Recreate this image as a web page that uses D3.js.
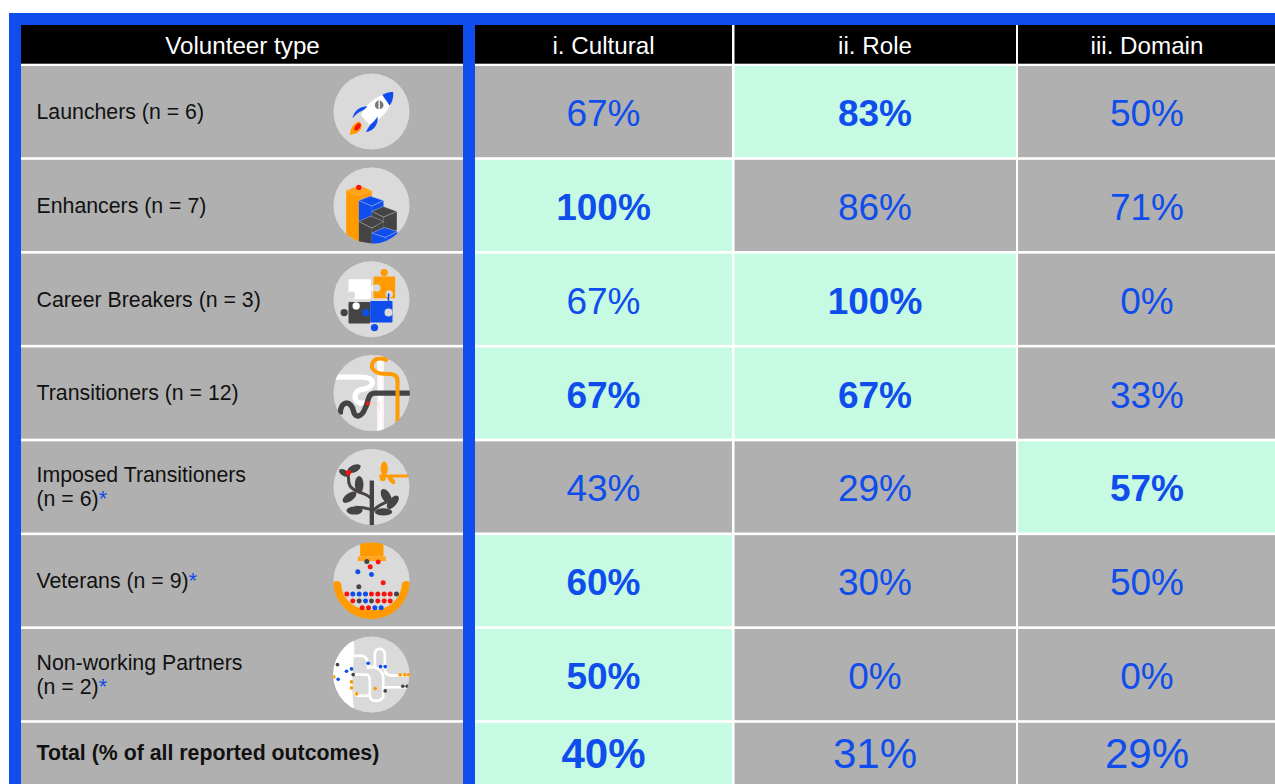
<!DOCTYPE html>
<html><head><meta charset="utf-8">
<script src="https://cdnjs.cloudflare.com/ajax/libs/d3/7.8.5/d3.min.js"></script>
<style>html,body{margin:0;padding:0;background:#fff;overflow:hidden}svg{display:block}text{font-family:"Liberation Sans",Arial,sans-serif}</style>
</head><body><svg id="c" width="1275" height="784"></svg>
<script>
const headers = ["Volunteer type", "i. Cultural", "ii. Role", "iii. Domain"];
const types = ["Launchers (n = 6)", "Enhancers (n = 7)", "Career Breakers (n = 3)", "Transitioners (n = 12)", "Imposed Transitioners|(n = 6)*", "Veterans (n = 9)*", "Non-working Partners|(n = 2)*", "Total (% of all reported outcomes)"];
const cultural = [67, 100, 67, 67, 43, 60, 50, 40];
const role = [83, 86, 100, 67, 29, 30, 0, 31];
const domain = [50, 71, 0, 33, 57, 50, 0, 29];
const culturalHighlight = [0, 1, 1, 1, 0, 1, 1, 1];
const culturalBold = [0, 1, 0, 1, 0, 1, 1, 1];
const roleHighlight = [1, 0, 1, 1, 0, 0, 0, 0];
const roleBold = [1, 0, 1, 1, 0, 0, 0, 0];
const domainHighlight = [0, 0, 0, 0, 1, 0, 0, 0];
const domainBold = [0, 0, 0, 0, 1, 0, 0, 0];

const BLUE="#0f4ded",GREY="#b0b0b0",GREEN="#c6fae2",DISC="#dadada",OR="#ff9b00",RED="#f8130c",DK="#444444";
const svg=d3.select("#c");
const STEP=93.5;
const y=d3.scaleBand().domain(d3.range(types.length)).range([66,66+8*STEP]).paddingInner(2.6/STEP).paddingOuter(0).align(0);
const colL=d3.scaleOrdinal().domain([0,1,2,3]).range([21,475,734.5,1018]);
const colR=d3.scaleOrdinal().domain([0,1,2,3]).range([463,732,1016,1290]);
const colMid=d3.scaleOrdinal().domain([0,1,2,3]).range([242.5,603.5,875,1147]);
const TOTAL_CY=753; // last row is cut by the page edge: its text sits in the visible part

svg.append("rect").attr("x",9).attr("y",13).attr("width",1266).attr("height",12).attr("fill",BLUE);
svg.append("rect").attr("x",9).attr("y",13).attr("width",12).attr("height",771).attr("fill",BLUE);
svg.append("rect").attr("x",463).attr("y",13).attr("width",12).attr("height",771).attr("fill",BLUE);

const hd=svg.selectAll("g.h").data(headers).join("g").attr("class","h");
hd.append("rect").attr("x",(d,i)=>colL(i)).attr("y",25).attr("width",(d,i)=>colR(i)-colL(i)).attr("height",38.7).attr("fill","#000");
hd.append("text").attr("x",(d,i)=>colMid(i)).attr("y",53.7).attr("text-anchor","middle").attr("fill","#fff").attr("font-size",24.2).text(d=>d);

const rows=svg.selectAll("g.r").data(types).join("g").attr("class","r");
rows.append("rect").attr("x",21).attr("y",(d,i)=>y(i)).attr("width",442).attr("height",y.bandwidth()).attr("fill",GREY);
rows.each(function(d,i){
  const g=d3.select(this),parts=d.split("|"),cy=i===7?TOTAL_CY:y(i)+y.bandwidth()/2;
  const top=parts.length>1?cy-12:cy;
  parts.forEach((p,k)=>{
    const t=g.append("text").attr("x",36.5).attr("y",top+k*24+7.3).attr("font-size",21.3).attr("fill","#111");
    if(i===7)t.attr("font-weight","bold");
    if(p.endsWith("*")){t.append("tspan").text(p.slice(0,-1));t.append("tspan").attr("fill",BLUE).text("*");}
    else t.text(p);
  });
});

[[cultural,culturalHighlight,culturalBold],[role,roleHighlight,roleBold],[domain,domainHighlight,domainBold]].forEach((s,c)=>{
  const g=svg.append("g");
  g.selectAll("rect").data(s[0]).join("rect").attr("x",colL(c+1)).attr("y",(d,i)=>y(i)).attr("width",colR(c+1)-colL(c+1)).attr("height",y.bandwidth()).attr("fill",(d,i)=>s[1][i]?GREEN:GREY);
  g.selectAll("text").data(s[0]).join("text").attr("x",colMid(c+1)).attr("y",(d,i)=>i===7?TOTAL_CY+15:y(i)+y.bandwidth()/2+14.5).attr("text-anchor","middle").attr("fill",BLUE).attr("font-size",(d,i)=>i===7?42:37).attr("font-weight",(d,i)=>s[2][i]?"bold":"normal").text(d=>d+"%");
});

const poly=(g,p,f,o)=>g.append("polygon").attr("points",p).attr("fill",f).attr("stroke",o||"none").attr("stroke-width",o?1.5:0);
const path=(g,d,s,w,extra)=>g.append("path").attr("d",d).attr("fill","none").attr("stroke",s).attr("stroke-width",w).attr("stroke-dasharray",extra||null);
const fpath=(g,d,f)=>g.append("path").attr("d",d).attr("fill",f);
const dot=(g,x,y,r,f)=>g.append("circle").attr("cx",x).attr("cy",y).attr("r",r).attr("fill",f);
const leaf=(g,x,y,rx,ry,a,f)=>g.append("ellipse").attr("rx",rx).attr("ry",ry).attr("transform",`translate(${x},${y}) rotate(${a})`).attr("fill",f);
const icons=[
 g=>{g.attr("transform","translate(-154,-140)");
  fpath(g,"M186,90 C198,82 210,81 219,81 C220,95 218,110 208,122 Z",BLUE);
  fpath(g,"M186,90 C162,100 138,118 122,150 L146,178 C175,170 200,145 208,122 Z","#fff");
  fpath(g,"M97,160 C102,138 120,122 142,125 C134,134 126,138 118,141 C110,146 104,152 97,160 Z",BLUE);
  fpath(g,"M137,201 C158,200 176,180 172,155 C166,165 160,172 152,178 C146,186 141,193 137,201 Z",BLUE);
  fpath(g,"M89,210 C90,190 103,172 117,170 C131,178 124,196 112,203 C105,207 97,209 89,210 Z",OR);
  leaf(g,112,186,7,13,38,RED);
  dot(g,177,120,13,"#777");g.append("rect").attr("x",175).attr("y",107).attr("width",4).attr("height",26).attr("fill","#fff");},
 g=>{g.attr("transform","translate(-154,-420)");
  poly(g,"78,375 116,392 116,530 78,508",OR);poly(g,"116,392 155,375 155,405 116,420",OR);poly(g,"78,375 116,360 155,375 116,392","#ffa51a");
  poly(g,"116,405 155,422 155,462 116,470",BLUE);poly(g,"155,422 190,405 190,430 155,445",BLUE);poly(g,"116,405 150,392 190,405 155,422",BLUE,"#b9c8f5");
  poly(g,"155,438 190,455 190,490 155,475",DK);poly(g,"190,455 230,438 230,495 190,505",DK);poly(g,"155,438 190,423 230,438 190,455",DK,"#bbb");
  poly(g,"116,468 155,488 155,535 116,528",DK);poly(g,"155,488 190,468 190,492 155,510",DK);poly(g,"116,468 152,452 190,468 155,488",DK,"#bbb");
  poly(g,"155,503 195,516 195,540 155,535",BLUE);poly(g,"195,516 232,498 232,515 195,540",BLUE);poly(g,"155,503 192,486 232,498 195,516",BLUE,"#b9c8f5");
  path(g,"M116,366 C120,340 150,345 150,385 M190,405 C185,392 170,382 165,392","#f4f4f4",1.2,"3 3");
  dot(g,116,366,8,RED);},
 g=>{g.attr("transform","translate(-154,-130)");
  g.append("rect").attr("x",85).attr("y",70).attr("width",67).attr("height",60).attr("rx",3).attr("fill","#fff");
  dot(g,166,97,13,"#fff");
  g.append("rect").attr("x",160).attr("y",62).attr("width",65).attr("height",65).attr("rx",3).attr("fill",OR);
  dot(g,192,50,11,OR);dot(g,170,96,11,DISC);
  g.append("rect").attr("x",85).attr("y",138).attr("width",65).attr("height",65).attr("rx",3).attr("fill",DK);
  dot(g,72,170,11,DK);dot(g,94,118,11,DISC);dot(g,108,150,11,"#fff");
  g.append("rect").attr("x",150).attr("y",135).attr("width",67).attr("height",65).attr("rx",3).attr("fill",BLUE);
  dot(g,163,215,11,BLUE);dot(g,137,170,11,BLUE);dot(g,205,170,12,DISC);dot(g,207,114,11,DISC);
  path(g,"M204,113 C210,120 200,125 206,135",BLUE,5);},
 g=>{g.attr("transform","translate(-154,-410)");
  g.append("rect").attr("x",171).attr("y",295).attr("width",20).attr("height",230).attr("fill","#fff");
  path(g,"M174,295 V525 M188,295 V525","#f6b8b0",1.5,"3 3");
  path(g,"M40,362 H125 C168,362 165,394 130,398 C98,402 98,434 120,440 H145","#fff",16);
  path(g,"M270,410 H165 C140,410 146,438 135,455 C125,482 105,487 100,465 C95,432 60,428 60,474",DK,16);
  path(g,"M232,500 V372 C232,355 218,352 190,352 C165,352 148,335 158,318 C165,305 185,302 203,312",OR,12);
  path(g,"M143,441 H178 V465","#f6b8b0",2,"4 3");
  dot(g,143,441,6,RED);},
 g=>{g.attr("transform","translate(-154,-137)");
  path(g,"M132,84 L188,140","#f5f5f5",1.5);
  path(g,"M155,118 V252",DK,13);
  path(g,"M155,205 C130,198 125,198 105,198 M155,212 C170,195 185,185 210,180 M155,175 C140,150 110,160 90,135 C82,120 85,105 85,94",DK,9);
  path(g,"M155,175 C140,155 112,165 92,140 C86,125 88,110 85,96","#b33",1.2,"2 3");
  leaf(g,72,95,17,9,30,DK);leaf(g,102,82,21,11,-25,DK);leaf(g,117,130,26,13,90,DK);leaf(g,88,168,24,12,-35,DK);leaf(g,103,208,24,12,0,DK);
  leaf(g,198,165,24,13,60,DK);leaf(g,218,183,24,12,-50,DK);leaf(g,190,212,26,11,0,DK);
  path(g,"M178,104 H265",OR,9);
  leaf(g,192,82,21,11,90,OR);leaf(g,214,116,15,7,50,OR);leaf(g,188,112,9,8,0,OR);
  dot(g,85,94,8,RED);},
 g=>{g.attr("transform","translate(-154,-415)");
  fpath(g,"M38,425 C38,413 60,412 63,425 C66,470 100,503 154,503 C208,503 242,470 245,425 C248,412 270,413 270,425 V545 H38 Z",OR);
  g.append("rect").attr("x",120).attr("y",300).attr("width",70).attr("height",42).attr("fill",OR);
  g.append("rect").attr("x",113).attr("y",342).attr("width",84).attr("height",14).attr("fill","#ffa51a");
  const ds=[[140,357,DK],[174,359,RED],[150,373,RED],[113,388,BLUE],[154,396,BLUE],[189,421,RED],[116,433,DK],
   [80,455,RED],[98,455,BLUE],[117,455,BLUE],[136,455,BLUE],[154,455,RED],[173,455,RED],[192,455,RED],[210,455,RED],[229,455,DK],
   [98,476,RED],[117,476,DK],[136,476,BLUE],[154,476,DK],[173,476,RED],[192,476,RED],[210,476,RED],
   [126,496,RED],[145,496,RED],[164,496,BLUE],[183,496,BLUE]];
  ds.forEach(d=>dot(g,d[0],d[1],7.5,d[2]));},
 g=>{g.attr("transform","translate(-155,-142)");
  fpath(g,"M30,20 H94 C105,50 105,60 102,90 C98,140 95,190 102,240 L95,265 H30 Z","#fff");
  const w="#fff";
  path(g,"M100,86 H125 C140,86 143,100 145,108 V125 M145,120 H165 V80 C165,60 195,60 195,80 V120 H175 M195,80 V125 C195,145 210,145 225,145 H275",w,8);
  path(g,"M100,142 H140 C150,142 150,155 150,165 V205 C150,225 180,225 190,210 V150 C190,135 175,118 150,118 M150,205 H115 C108,205 106,200 105,195 M190,180 H260",w,8);
  [[53,112,DK],[95,125,BLUE],[80,132,BLUE],[100,142,DK],[55,156,BLUE],[42,149,OR],[145,108,BLUE],[182,118,BLUE],[196,118,BLUE],[241,143,OR],[255,143,OR],[266,143,OR],[95,164,OR],[95,182,OR],[110,200,OR],[166,184,OR],[196,191,DK],[249,177,DK],[262,177,DK]].forEach(d=>dot(g,d[0],d[1],5.5,d[2]));}
];
const defs=svg.append("defs");
defs.append("clipPath").attr("id","disc").append("circle").attr("r",38.4);
const ig=svg.selectAll("g.i").data(icons).join("g").attr("class","i").attr("transform",(d,i)=>`translate(371.5,${y(i)+y.bandwidth()/2})`);
ig.append("circle").attr("r",38.5).attr("fill",DISC).attr("stroke","#a5a5a5").attr("stroke-width",0.6);
ig.each(function(f){const c=d3.select(this).append("g").attr("clip-path","url(#disc)").append("g").attr("transform","scale(0.3333)").append("g");f(c);});
</script></body></html>
